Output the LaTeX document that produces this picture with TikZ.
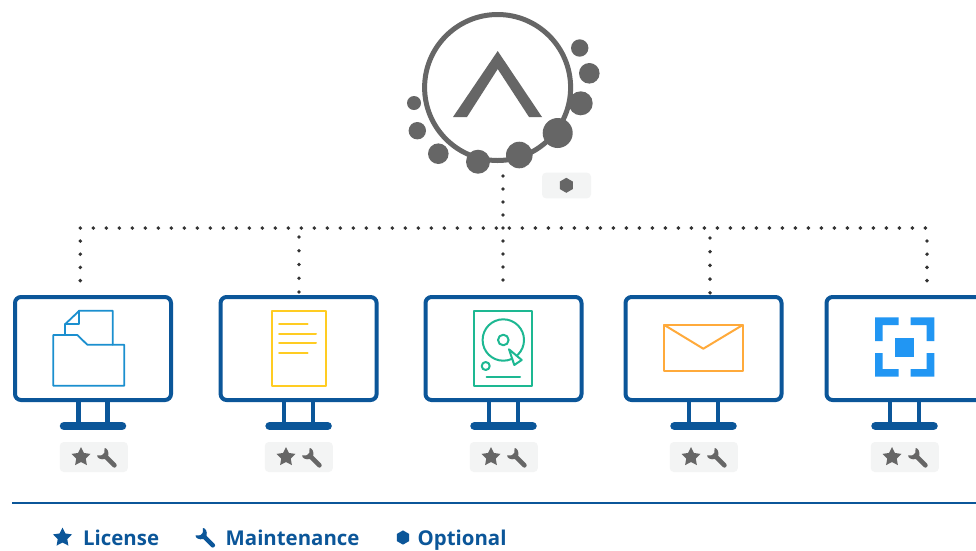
\documentclass[tikz,border=0pt]{standalone}
\usepackage{fontspec}
\setmainfont{Open Sans}
\definecolor{navy}{HTML}{0B5699}
\definecolor{logogray}{HTML}{666666}
\definecolor{badgebg}{HTML}{F3F4F4}
\definecolor{dotc}{HTML}{333333}
\definecolor{folderc}{HTML}{1B8FCF}
\definecolor{docc}{HTML}{FFCC22}
\definecolor{diskc}{HTML}{1DB892}
\definecolor{mailc}{HTML}{FFAA3B}
\definecolor{targetc}{HTML}{2196F3}
\tikzset{
  dotline/.style={draw=dotc,line width=3.9pt,line cap=round,dash pattern=on 0pt off 13.2pt},
  monitor/.style={draw=navy,line width=4pt,rounded corners=6pt,minimum width=156pt,minimum height=103pt,inner sep=0pt,outer sep=0pt,fill=white},
  standleg/.style={draw=navy,line width=4.5pt},
  standbase/.style={draw=navy,line width=8.5pt,line cap=round},
  badge/.style={fill=badgebg,rounded corners=4pt,minimum width=68pt,minimum height=30pt,inner sep=0pt,outer sep=0pt},
  iconline/.style={line width=2pt,line join=round,line cap=round},
  legendtext/.style={anchor=base west,inner sep=0pt,text=navy,font=\bfseries\fontsize{20.4}{24}\selectfont},
  ball/.style={circle,fill=logogray,inner sep=0pt,outer sep=0pt},
  staricon/.pic={\fill[pic actions] (0,-10)--(2.94,-4.05)--(9.51,-3.09)--(4.76,1.55)--(5.88,8.09)--(0,5)--(-5.88,8.09)--(-4.76,1.55)--(-9.51,-3.09)--(-2.94,-4.05)--cycle;},
  wrenchicon/.pic={\fill[pic actions] (-2,-9.5)--(-2.3,-4.7)--(-4.7,-2.3)--(-9.5,-2) .. controls (-9.5,0.5) and (-6,2.5) .. (-1.6,1.6) -- (6.4,9.6) .. controls (7.4,10.4) and (8.6,10.2) .. (9.4,9.4) .. controls (10.2,8.6) and (10.4,7.4) .. (9.6,6.4) -- (1.6,-1.6) .. controls (2.5,-6) and (0.5,-9.5) .. (-2,-9.5) -- cycle;},
  hexicon/.pic={\fill[pic actions] (0,-7.5)--(6.5,-3.75)--(6.5,3.75)--(0,7.5)--(-6.5,3.75)--(-6.5,-3.75)--cycle;},
}
\newcommand{\stand}[1]{%
  \draw[standleg] (#1-14.5,401)--(#1-14.5,424);
  \draw[standleg] (#1+14.5,401)--(#1+14.5,424);
  \draw[standbase] (#1-29,426)--(#1+29,426);
}
\begin{document}
\begin{tikzpicture}[x=1pt,y=-1pt]
\clip (0,0) rectangle (976,550);
\fill[white] (0,0) rectangle (976,550);

% junction coordinates
\coordinate (busL) at (80.3,228);
\coordinate (busR) at (927,228);
\coordinate (top3) at (503,176);
\coordinate (j1) at (80.3,241);
\coordinate (e1) at (80.3,282);
\coordinate (j2) at (299,237);
\coordinate (j4) at (710,238);
\coordinate (e4) at (710,293);
\coordinate (j5) at (927,241);
\coordinate (e5) at (927,287);
\coordinate (e3) at (503,293);

% connectors
\draw[dotline,dash pattern=on 0pt off 13pt] (busL)--(busR);
\draw[dotline] (j1)--(e1);
\draw[dotline,dash pattern=on 0pt off 13.75pt] (j2)--(299,292);
\draw[dotline,dash pattern=on 0pt off 13pt] (top3)--(e3);
\draw[dotline,dash pattern=on 0pt off 13.7pt] (j4)--(e4);
\draw[dotline] (j5)--(e5);

% logo
\node[circle,draw=logogray,line width=5pt,minimum size=146pt,inner sep=0pt,outer sep=0pt] (logo) at (497.6,87.5) {};
\fill[logogray] (497.7,51)--(542,117)--(529,117)--(497.7,69)--(467,117)--(453,117)--cycle;
\node[ball,minimum size=17.4pt] (b1) at (579.7,48) {};
\node[ball,minimum size=20.6pt] (b2) at (589.3,73.3) {};
\node[ball,minimum size=24pt] (b3) at (580.7,103.3) {};
\node[ball,minimum size=30pt] (b4) at (557.7,133) {};
\node[ball,minimum size=26.6pt] (b5) at (519.3,155) {};
\node[ball,minimum size=24pt] (b6) at (478,161.7) {};
\node[ball,minimum size=20.6pt] (b7) at (438.3,153.7) {};
\node[ball,minimum size=17.4pt] (b8) at (417.3,130.7) {};
\node[ball,minimum size=14pt] (b9) at (414,103) {};

% optional badge
\node[badge,minimum width=49pt,minimum height=25.6pt] (optbadge) at (566.5,185.5) {};
\pic[fill=logogray] at (566.3,185.3) {hexicon};

% monitors
\foreach \c in {93,298.6,503.5,703.5,904.5}{\stand{\c}}
\node[monitor] (m1) at (93,348.5) {};
\node[monitor] (m2) at (298.6,348.5) {};
\node[monitor] (m3) at (503.5,348.5) {};
\node[monitor] (m4) at (703.5,348.5) {};
\node[monitor] (m5) at (904.5,348.5) {};

% badges
\foreach \n/\c in {ba/93.8,bb/298.8,bc/503.8,bd/703.8,be/904.8}{
  \node[badge] (\n) at (\c,457) {};
  \pic[fill=logogray] at (\c-12.8,457) {staricon};
  \pic[fill=logogray] at (\c+12.8,457.5) {wrenchicon};
}

% folder icon
\draw[folderc,iconline,line width=1.8pt] (53.3,335)--(77.3,335)--(87.3,344.7)--(124.3,344.7)--(124.3,385.7)--(53.3,385.7)--cycle;
\draw[folderc,iconline,line width=1.8pt] (65,335)--(65,324.3)--(79.3,310.7)--(112.7,310.7)--(112.7,344.7);
\draw[folderc,iconline,line width=1.8pt] (65,324.3)--(79.3,324.3)--(79.3,310.7);

% document icon
\draw[docc,iconline] (271.7,310.7) rectangle (325.7,386);
\draw[docc,iconline] (279,324)--(307.7,324);
\draw[docc,iconline] (279,333.7)--(316,333.7);
\draw[docc,iconline] (279,343.3)--(316,343.3);
\draw[docc,iconline] (279,352.7)--(307.7,352.7);

% disk icon
\draw[diskc,iconline] (474.3,311) rectangle (532.3,385.7);
\draw[diskc,iconline] (503.3,340) circle[radius=20.7];
\draw[diskc,iconline] (503.3,340) circle[radius=5.3];
\draw[diskc,iconline] (485.7,366) circle[radius=4];
\draw[diskc,iconline] (486.7,376.7)--(520,376.7);
\draw[diskc,iconline,fill=white] (509,349.3)--(521.7,360)--(514.3,365)--cycle;

% mail icon
\draw[mailc,iconline] (664.3,325) rectangle (742.7,371);
\draw[mailc,iconline] (664.3,325)--(703.3,348.7)--(742.7,325);

% target icon
\fill[targetc] (875,317.3)--(898.7,317.3)--(898.7,325)--(882.7,325)--(882.7,341)--(875,341)--cycle;
\fill[targetc] (934.3,317.3)--(910.6,317.3)--(910.6,325)--(926.6,325)--(926.6,341)--(934.3,341)--cycle;
\fill[targetc] (875,376.7)--(898.7,376.7)--(898.7,369)--(882.7,369)--(882.7,353)--(875,353)--cycle;
\fill[targetc] (934.3,376.7)--(910.6,376.7)--(910.6,369)--(926.6,369)--(926.6,353)--(934.3,353)--cycle;
\fill[targetc] (895.3,338) rectangle (914.3,357);

% legend
\coordinate (ruleL) at (12,503);
\coordinate (ruleR) at (976,503);
\draw[navy,line width=1.2pt] (ruleL)--(ruleR);
\pic[fill=navy] at (62.5,537.5) {staricon};
\node[legendtext] (t1) at (83,545) {License};
\pic[fill=navy] at (205,537.5) {wrenchicon};
\node[legendtext] (t2) at (225.5,545) {Maintenance};
\pic[fill=navy,scale=0.95] at (403,537.5) {hexicon};
\node[legendtext] (t3) at (417.5,545) {Optional};
\end{tikzpicture}
\end{document}
